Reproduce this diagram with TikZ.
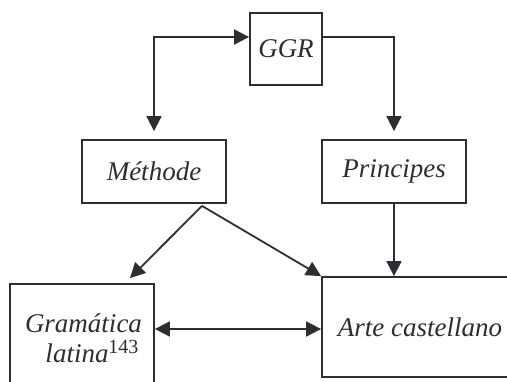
\documentclass[tikz,border=0pt]{standalone}
\usepackage{fontspec}
\setmainfont{Liberation Serif}
\usetikzlibrary{arrows.meta}
\definecolor{ink}{HTML}{2E2E32}
\tikzset{
  box/.style={draw=ink, line width=1.8pt, text=ink, inner sep=0pt,
    font=\fontsize{27}{30}\selectfont\itshape},
  arr/.style={draw=ink, line width=1.8pt, -{Triangle[length=15pt,width=15pt]}},
  biarr/.style={draw=ink, line width=1.8pt,
    {Triangle[length=15pt,width=15pt]}-{Triangle[length=15pt,width=15pt]}}
}
\begin{document}
\begin{tikzpicture}[x=1pt,y=-1pt]
\useasboundingbox (0,0) rectangle (507,381);
\clip (0,0) rectangle (507,381);
% boxes
\node[box, minimum width=72pt, minimum height=72pt] (ggr) at (286,49) {GGR};
\node[box, minimum width=144pt, minimum height=63pt] (meth) at (154,171.5) {Méthode};
\node[box, minimum width=144pt, minimum height=63pt] (princ) at (394,171.5) {Principes};
\node[box, minimum width=144pt, minimum height=108pt, align=right, text width=114pt] (gram) at (82,338)
  {Gramática\\latina\textsuperscript{\upshape\fontsize{20}{20}\selectfont 143}};
\node[box, minimum width=196pt, minimum height=100pt] (arte) at (420,327) {Arte castellano};
% connectors
\draw[biarr] ([yshift=12pt]ggr.west) -| ([yshift=8pt]meth.north);
\draw[arr] ([yshift=12pt]ggr.east) -| ([yshift=8pt]princ.north);
\coordinate (mfoot) at ([xshift=48pt,yshift=-2pt]meth.south);
\draw[arr] (mfoot) -- ([xshift=48pt,yshift=5pt]gram.north);
\draw[arr] (mfoot) -- (arte.north west);
\draw[arr] (princ.south) -- (princ.south |- arte.north);
\draw[biarr] ([yshift=-2pt]arte.west) -- ([yshift=-2pt]arte.west -| gram.east);
\end{tikzpicture}
\end{document}
